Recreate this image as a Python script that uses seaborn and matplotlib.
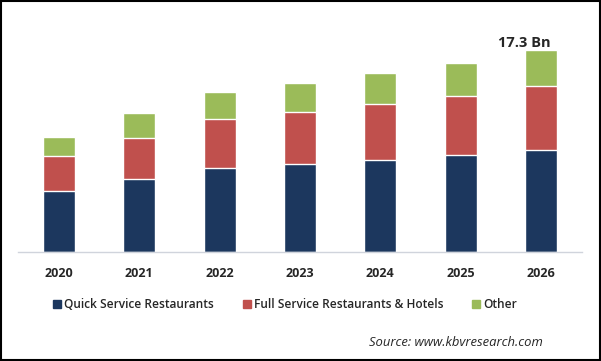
import numpy as np
import pandas as pd
import matplotlib.pyplot as plt
import matplotlib.patches as mpatches
import seaborn as sns

years = ['2020', '2021', '2022', '2023', '2024', '2025', '2026']
quick_service = [5.23, 6.23, 7.20, 7.55, 7.89, 8.29, 8.72]
full_service = [2.98, 3.58, 4.18, 4.43, 4.80, 5.06, 5.49]
other = [1.63, 2.08, 2.32, 2.49, 2.63, 2.89, 3.09]

series_names = ['Quick Service Restaurants', 'Full Service Restaurants & Hotels', 'Other']
colors = ['#1c375e', '#c0504d', '#9bbb59']

df = pd.DataFrame({'year': years, 'qsr': quick_service, 'fsr': full_service, 'other': other})
df['lvl2'] = df['qsr'] + df['fsr']
df['total'] = df['lvl2'] + df['other']

sns.set_style("white")
plt.rcParams['font.family'] = ['Open Sans', 'DejaVu Sans']

fig = plt.figure(figsize=(6.01, 3.61), dpi=100)
ax = fig.add_axes([18 / 601, 1 - 252 / 361, 564 / 601, 221.5 / 361])

# stacked bars: draw cumulative totals back to front
sns.barplot(x='year', y='total', data=df, color=colors[2], width=0.4, saturation=1, ax=ax)
sns.barplot(x='year', y='lvl2', data=df, color=colors[1], width=0.4, saturation=1, ax=ax)
sns.barplot(x='year', y='qsr', data=df, color=colors[0], width=0.4, saturation=1, ax=ax)

ax.set_xlim(-0.51, 6.51)
ax.set_ylim(0, 19)
ax.set_xlabel('')
ax.set_ylabel('')
ax.set_yticks([])
ax.tick_params(axis='x', length=0, pad=11, labelsize=9)
for lbl in ax.get_xticklabels():
    lbl.set_fontweight('bold')
for side in ['top', 'right', 'left']:
    ax.spines[side].set_visible(False)
ax.spines['bottom'].set_color('#d0d4dc')
ax.spines['bottom'].set_linewidth(1)

ax.text(6 - 0.21, df['total'].iloc[-1] + 0.02, f"{df['total'].iloc[-1]:.1f} Bn",
        ha='center', va='bottom', fontsize=10.5, fontweight='bold')

handles = [mpatches.Patch(color=c, label=n) for c, n in zip(colors, series_names)]
fig.legend(handles=handles, loc='center', bbox_to_anchor=(0.474, 1 - 305 / 361), ncol=3,
           frameon=False, handlelength=0.68, handleheight=0.68,
           handletextpad=0.25, columnspacing=2.4, prop={'weight': 'semibold', 'size': 8.6})

fig.text(543 / 601, 1 - 342 / 361, 'Source: www.kbvresearch.com', ha='right', va='center',
         fontsize=9.4, style='italic')

# outer frame
fig.patches.append(mpatches.Rectangle((0.001, 0.002), 0.997, 0.995, transform=fig.transFigure,
                                      fill=False, edgecolor='black', linewidth=1.5))

plt.savefig('out.png', dpi=100)
